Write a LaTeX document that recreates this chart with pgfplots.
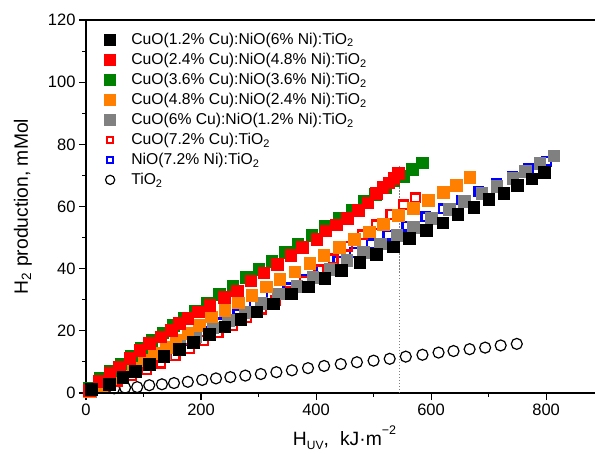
\documentclass[border=0pt]{standalone}
\usepackage{pgfplots}
\pgfplotsset{compat=1.18}
\usepackage{fontspec}
\setmainfont{Liberation Sans}

\definecolor{cgreen}{RGB}{0,128,0}
\definecolor{corange}{RGB}{255,128,0}
\definecolor{cgray}{RGB}{128,128,128}

\pgfplotsset{
  lgimg/.style={legend image code/.code={%
    \draw[##1, #1] plot coordinates {(0.3cm,0cm)};
    \path (0cm,0cm) (0.95cm,0cm);}},
  lgimg/.default={},
}

\begin{document}
\begin{tikzpicture}
\useasboundingbox (-86pt,-60pt) rectangle (509pt,393pt);
\begin{axis}[
  at={(0,0)}, anchor=south west,
  scale only axis,
  width=509pt, height=373pt,
  xmin=0, xmax=885, ymin=0, ymax=120,
  axis x line*=box, axis y line*=left,
  axis line style={line width=1.5pt, black},
  xtick={0,200,...,800}, ytick={0,20,...,120},
  minor x tick num=1, minor y tick num=1,
  xtick pos=left, ytick pos=left,
  tick align=outside,
  major tick length=7pt, minor tick length=3.5pt,
  every tick/.style={black, line width=1.1pt},
  /pgf/number format/assume math mode=true,
  tick label style={font=\fontsize{16.5}{16.5}\selectfont},
  label style={font=\fontsize{19.3}{19.3}\selectfont},
  xlabel={H\raisebox{-0.22em}{\fontsize{12}{12}\selectfont UV},\hspace{0.3em} kJ·m\raisebox{0.55em}{\fontsize{12.5}{12.5}\selectfont −2}},
  ylabel={H\textsubscript{2} production, mMol},
  xlabel style={at={(axis description cs:0.508,-0.140)}, anchor=base},
  ylabel style={at={(axis description cs:-0.114,0.5)}, anchor=base},
  legend style={at={(axis description cs:0.028,0.970)}, anchor=north west,
    draw=none, fill=none, font=\fontsize{15.7}{15.7}\selectfont,
    row sep=4.2pt, inner sep=0pt, nodes={inner sep=1.5pt}},
  legend cell align=left,
  reverse legend,
  clip=false,
]

% TiO2 reference
\addplot[only marks, mark=o, mark size=5.5pt, line width=1.2pt, black, mark options={fill=white},
  lgimg={mark size=4.6pt}]
coordinates {(49,1.5)(68,1.7)(89,1.9)(110,2.5)(132,2.8)(153,3.2)(177,3.6)(202,4.2)(226,4.7)(251,5.1)
(277,5.6)(304,6.1)(331,6.7)(358,7.3)(386,8.0)(414,8.7)(443,9.3)(471,9.9)(500,10.4)(528,11.0)
(556,11.7)(585,12.3)(613,13.0)(639,13.5)(667,14.1)(694,14.6)(721,15.3)(749,15.8)};
\addlegendentry{TiO\textsubscript{2}}

% NiO(7.2% Ni):TiO2
\addplot[only marks, mark=square, mark size=4.3pt, line width=2.3pt, blue,
  lgimg={mark size=3.1pt, line width=2pt}]
coordinates {(5,0.4)(32,3.0)(61,5.8)(90,8.6)(119,11.4)(148,14.2)(177,17.0)(206,19.8)(235,22.6)(264,25.4)
(293,28.2)(322,31.0)(351,33.8)(380,36.6)(409,39.4)(438,42.3)(467,45.2)(496,48.0)(525,50.8)(558,53.7)
(591,56.7)(621,59.3)(653,62.1)(683,64.7)(714,67.4)(742,69.8)(770,72.1)(801,74.6)};
\addlegendentry{NiO(7.2\% Ni):TiO\textsubscript{2}}

% CuO(7.2% Cu):TiO2
\addplot[only marks, mark=square, mark size=4.3pt, line width=2.3pt, red,
  lgimg={mark size=3.1pt, line width=2pt}]
coordinates {(5,0.3)(30,2.0)(55,3.8)(80,5.6)(105,7.5)(130,9.6)(155,11.9)(180,14.3)(205,16.9)(230,19.3)
(255,21.7)(280,24.2)(305,27.0)(330,29.8)(355,32.7)(380,36.0)(405,39.6)(430,43.2)(455,47.2)(480,50.9)
(505,54.1)(530,57.4)(552,60.5)(573,62.8)};
\addlegendentry{CuO(7.2\% Cu):TiO\textsubscript{2}}

% CuO(6% Cu):NiO(1.2% Ni):TiO2
\addplot[only marks, mark=square*, mark size=5.8pt, line width=0.3pt, cgray, lgimg={mark size=5.5pt}]
coordinates {(8,0.6)(35,3.2)(60,5.6)(85,8.0)(110,10.4)(136,12.9)(162,15.4)(190,18.1)(220,21.0)(247,23.5)
(276,26.1)(305,29.0)(334,31.9)(366,34.4)(394,37.3)(424,39.9)(453,42.7)(482,45.3)(511,48.0)(540,50.7)
(569,53.4)(600,56.3)(631,59.2)(658,61.8)(688,64.3)(714,66.6)(742,69.2)(764,71.4)(789,74.0)(813,76.3)};
\addlegendentry{CuO(6\% Cu):NiO(1.2\% Ni):TiO\textsubscript{2}}

% CuO(4.8% Cu):NiO(2.4% Ni):TiO2
\addplot[only marks, mark=square*, mark size=5.8pt, line width=0.3pt, corange, lgimg={mark size=5.5pt}]
coordinates {(5,0.6)(26,2.6)(43,4.7)(64,6.9)(81,9.0)(98,10.6)(119,12.8)(139,14.7)(156,17.1)(177,19.2)
(197,21.9)(218,24.5)(241,26.7)(265,29.1)(288,31.5)(313,34.2)(337,36.6)(363,39.0)(389,41.7)(413,44.4)
(440,46.9)(466,49.5)(492,51.9)(517,54.4)(543,57.3)(569,59.4)(595,62.1)(621,64.6)(644,66.9)(667,69.4)};
\addlegendentry{CuO(4.8\% Cu):NiO(2.4\% Ni):TiO\textsubscript{2}}

% CuO(3.6% Cu):NiO(3.6% Ni):TiO2
\addplot[only marks, mark=square*, mark size=5.8pt, line width=0.3pt, cgreen, lgimg={mark size=5.5pt}]
coordinates {(5,1.5)(24,4.8)(42,7.2)(60,9.5)(78,12.0)(96,14.6)(114,17.0)(133,19.4)(152,21.8)(170,24.0)
(190,26.4)(210,29.0)(232,31.8)(255,34.5)(278,37.3)(300,39.8)(323,42.5)(346,45.3)(368,48.0)(392,50.8)
(416,53.6)(440,56.3)(462,58.9)(484,61.7)(503,64.0)(520,66.3)(535,68.3)(551,69.8)(567,72.0)(584,74.1)};
\addlegendentry{CuO(3.6\% Cu):NiO(3.6\% Ni):TiO\textsubscript{2}}

% CuO(2.4% Cu):NiO(4.8% Ni):TiO2
\addplot[only marks, mark=square*, mark size=5.8pt, line width=0.3pt, red, lgimg={mark size=5.5pt}]
coordinates {(5,1.0)(23,3.8)(41,6.3)(58,8.5)(76,11.2)(93,13.8)(110,16.0)(130,18.1)(148,20.3)(162,22.4)
(177,24.0)(195,26.2)(215,28.3)(240,30.8)(263,32.9)(286,36.1)(309,38.7)(332,41.5)(356,44.4)(376,46.9)
(401,49.5)(417,52.2)(435,54.1)(454,56.2)(473,58.9)(490,61.2)(504,64.2)(516,66.2)(526,67.7)(535,69.1)(543,70.7)};
\addlegendentry{CuO(2.4\% Cu):NiO(4.8\% Ni):TiO\textsubscript{2}}

% CuO(1.2% Cu):NiO(6% Ni):TiO2
\addplot[only marks, mark=square*, mark size=5.8pt, line width=0.3pt, black, lgimg={mark size=5.5pt}]
coordinates {(9,1.3)(40,2.9)(64,5.1)(85,7.1)(110,9.3)(135,11.9)(162,14.1)(186,16.4)(214,19.0)(241,21.3)
(269,23.7)(297,26.2)(325,28.8)(357,31.9)(386,34.2)(415,36.9)(444,39.6)(476,42.1)(505,44.6)(534,47.1)
(562,49.8)(591,52.4)(620,54.8)(646,57.5)(674,59.8)(700,62.4)(726,64.3)(750,66.9)(775,68.9)(797,71.1)};
\addlegendentry{CuO(1.2\% Cu):NiO(6\% Ni):TiO\textsubscript{2}}

% marker line at the chosen dose
\addplot[forget plot, cgray, line width=0.6pt, dash pattern=on 1.5pt off 1.5pt]
coordinates {(545,0)(545,73)};
\end{axis}
\end{tikzpicture}
\end{document}
